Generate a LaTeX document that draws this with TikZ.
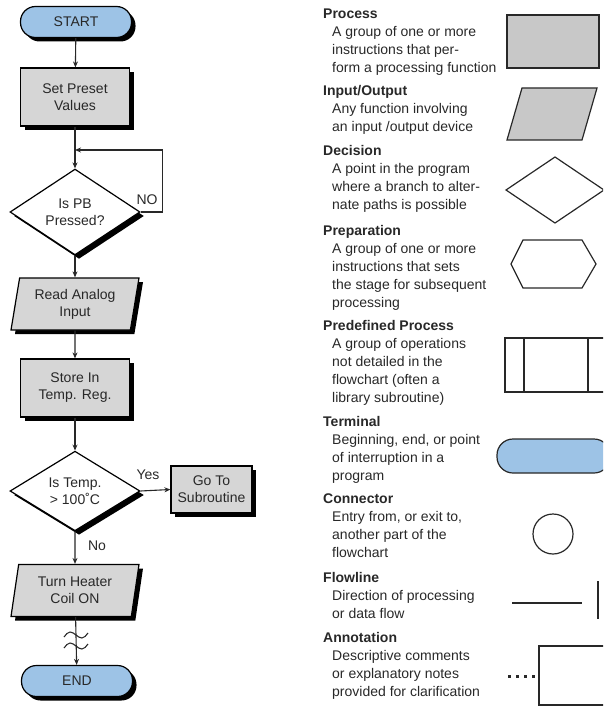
\documentclass[tikz,border=0pt]{standalone}
\usepackage{fontspec}
\setmainfont{Liberation Sans}
\usetikzlibrary{shapes.geometric,shadows,arrows.meta}
\definecolor{termblue}{RGB}{157,195,230}
\definecolor{boxgray}{RGB}{214,214,214}
\definecolor{leggray}{RGB}{200,200,200}
\definecolor{ink}{RGB}{40,40,40}
\begin{document}
\begin{tikzpicture}[x=1pt,y=-1pt,
  every node/.style={font=\fontsize{14}{17}\selectfont, text=ink},
  castshadow/.style={drop shadow={shadow xshift=4pt,shadow yshift=-4pt,opacity=1,fill=black}},
  terminal/.style={rectangle, rounded corners=15pt, draw=black, line width=1.2pt,
    fill=termblue, minimum width=111pt, minimum height=31pt, inner sep=0pt, castshadow},
  procbox/.style={rectangle, draw=black, line width=1.2pt, fill=boxgray,
    minimum width=109pt, minimum height=58pt, align=center, inner sep=0pt, castshadow},
  iobox/.style={trapezium, trapezium left angle=74, trapezium right angle=106,
    trapezium stretches body, draw=black, line width=1.2pt, fill=boxgray,
    minimum width=128pt, minimum height=52pt, align=center, inner sep=0pt, castshadow},
  decision/.style={diamond, draw=black, line width=1.2pt, fill=white,
    minimum width=130pt, minimum height=75pt, align=center, inner sep=0pt, castshadow},
  flow/.style={draw=ink, line width=1.1pt, -{Stealth[length=6pt,width=5pt]}},
  tag/.style={inner sep=0pt},
  legend/.style={anchor=north west, align=left, inner sep=0pt,
    font=\fontsize{14}{18}\selectfont},
  legshape/.style={draw=ink, line width=1.2pt},
]
\useasboundingbox (0,0) rectangle (603,706);
\clip (0,0) rectangle (603,706);

% ---------- flowchart ----------
\node[terminal] (start) at (76,22) {START};
\node[procbox] (preset) at (75,97) {Set Preset\\Values};
\node[decision] (pb) at (75,212) {Is PB\\Pressed?};
\node[iobox] (read) at (75,304) {Read Analog\\Input};
\node[procbox] (store) at (75,388) {Store In\\Temp. Reg.};
\node[decision] (temp) at (75,491) {Is Temp.\\> 100˚C};
\node[procbox, minimum width=81pt, minimum height=47pt] (sub) at (211.5,489.5) {Go To\\Subroutine};
\node[iobox] (heat) at (75,590.5) {Turn Heater\\Coil ON};
\node[terminal] (stop) at (77,681) {END};

\coordinate (loopin) at (75,150);

\draw[flow] (start) -- (preset);
\draw[flow] (preset) -- (pb);
\draw[flow] (pb.east) -- ++(22,0) |- (loopin);
\draw[flow] (pb) -- (read);
\draw[flow] (read) -- (store);
\draw[flow] (store) -- (temp);
\draw[flow] (temp.east) -- (sub.west);
\draw[flow] (temp) -- (heat);
\draw[flow] (heat) -- (stop);

\node[tag] (nolabel) at (147,200) {NO};
\node[tag] (yeslabel) at (148,475) {Yes};
\node[tag] (nolabel2) at (97,546) {No};

% break marks on the last flowline
\foreach \yy in {635,646}
  \draw[ink, line width=1.1pt] (64,\yy+2) sin (70,\yy-3) cos (76,\yy) sin (82,\yy+3) cos (88,\yy-2);

% ---------- legend ----------
\node[legend] (lproc) at (323,9) {\textbf{Process}\\
  \hspace*{9pt}A group of one or more\\
  \hspace*{9pt}instructions that per-\\
  \hspace*{9pt}form a processing function};
\node[legend] (lio) at (323,85) {\textbf{Input/Output}\\
  \hspace*{9pt}Any function involving\\
  \hspace*{9pt}an input /output device};
\node[legend] (ldec) at (323,145) {\textbf{Decision}\\
  \hspace*{9pt}A point in the program\\
  \hspace*{9pt}where a branch to alter-\\
  \hspace*{9pt}nate paths is possible};
\node[legend] (lprep) at (323,225) {\textbf{Preparation}\\
  \hspace*{9pt}A group of one or more\\
  \hspace*{9pt}instructions that sets\\
  \hspace*{9pt}the stage for subsequent\\
  \hspace*{9pt}processing};
\node[legend] (lpre) at (323,320) {\textbf{Predefined Process}\\
  \hspace*{9pt}A group of operations\\
  \hspace*{9pt}not detailed in the\\
  \hspace*{9pt}flowchart (often a\\
  \hspace*{9pt}library subroutine)};
\node[legend] (lterm) at (323,416) {\textbf{Terminal}\\
  \hspace*{9pt}Beginning, end, or point\\
  \hspace*{9pt}of interruption in a\\
  \hspace*{9pt}program};
\node[legend] (lconn) at (323,494) {\textbf{Connector}\\
  \hspace*{9pt}Entry from, or exit to,\\
  \hspace*{9pt}another part of the\\
  \hspace*{9pt}flowchart};
\node[legend] (lflow) at (323,572) {\textbf{Flowline}\\
  \hspace*{9pt}Direction of processing\\
  \hspace*{9pt}or data flow};
\node[legend] (lann) at (323,632) {\textbf{Annotation}\\
  \hspace*{9pt}Descriptive comments\\
  \hspace*{9pt}or explanatory notes\\
  \hspace*{9pt}provided for clarification};

% legend symbols
\draw[legshape, fill=leggray] (507,15) rectangle (599,68);
\draw[legshape, fill=leggray] (522,88) -- (597,88) -- (582,140) -- (507,140) -- cycle;
\draw[legshape] (555,157) -- (604,190) -- (555,223) -- (506,190) -- cycle;
\draw[legshape] (523,240) -- (582,240) -- (596,264) -- (582,288) -- (523,288) -- (511,264) -- cycle;
\draw[legshape] (505,338) rectangle (607,392);
\draw[legshape] (524,338) -- (524,392) (588,338) -- (588,392);
\draw[legshape, fill=termblue, rounded corners=16pt] (497,439) rectangle (610,473);
\draw[legshape] (553,534) circle[radius=20];
\draw[legshape] (512,603) -- (582,603);
\draw[legshape] (598,581) -- (598,619);
\draw[ink, line width=3pt, dash pattern=on 3pt off 5pt] (508,676) -- (537,676);
\draw[legshape] (607,646) -- (539,646) -- (539,705) -- (607,705);
\end{tikzpicture}
\end{document}
